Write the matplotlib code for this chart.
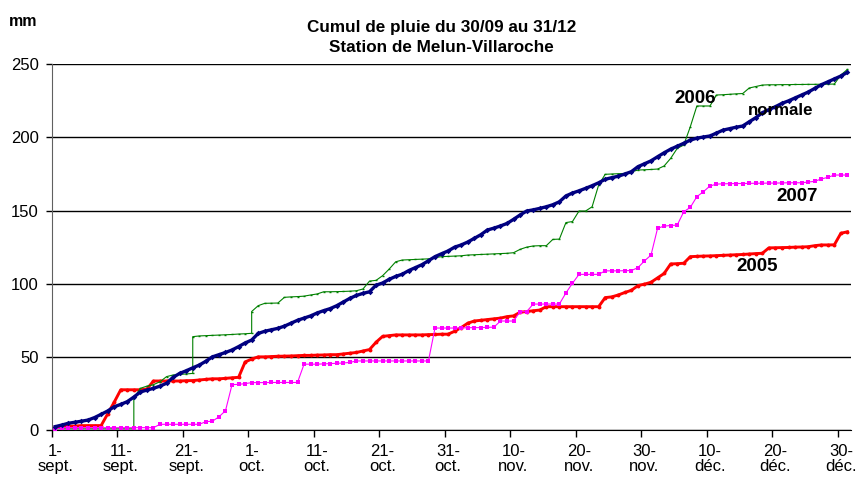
import numpy as np
import matplotlib
matplotlib.use("Agg")
import matplotlib.pyplot as plt

plt.rcParams['font.family'] = ['Liberation Sans', 'DejaVu Sans']

# cumul journalier (mm), du 1er septembre (indice 0) au 31 décembre (indice 121)
pluie_2005 = [
    2, 2.5, 2.5, 2.7, 3, 3, 3, 3, 11, 19,
    27.5, 27.5, 27.5, 27.5, 28, 33.5, 33.5, 33.5, 33.5, 33.5,
    33.7, 33.8, 34.2, 34.6, 35, 35, 35.3, 35.7, 36, 46.5,
    48.5, 50, 50, 50.2, 50.4, 50.5, 50.6, 50.8, 51, 51,
    51.2, 51.3, 51.5, 51.5, 52, 52.5, 53, 54, 55, 60,
    64, 64.5, 65, 65, 65, 65, 65, 65.2, 65.3, 65.5,
    65.5, 67.5, 70, 73, 74.5, 75, 75.5, 76, 76.5, 77.5,
    78, 80.5, 81, 81.5, 82, 84.3, 84.3, 84.3, 84.3, 84.3,
    84.3, 84.3, 84.3, 84.3, 90.5, 91, 92.3, 94, 95.5, 98.7,
    99.7, 101, 104, 107, 113.5, 113.7, 114, 118.5, 118.7, 118.9,
    119, 119.2, 119.4, 119.6, 119.8, 120, 120.3, 120.6, 120.8, 124.5,
    124.6, 124.7, 124.8, 125, 125.1, 125.3, 126, 126.5, 126.5, 126.6,
    134.5, 135.5,
]

pluie_2007 = [
    0.5, 1.6, 1.6, 1.6, 1.6, 1.6, 1.6, 1.6, 1.6, 1.6,
    1.6, 1.6, 1.6, 1.6, 1.6, 1.6, 3.9, 3.9, 3.9, 3.9,
    3.9, 3.9, 3.9, 5.7, 6, 9, 13.2, 31, 31.2, 31.7,
    32.4, 32.4, 32.4, 32.5, 32.5, 32.5, 32.5, 32.5, 45, 45,
    45, 45.2, 45.4, 45.6, 45.8, 46.2, 47.2, 47.2, 47.2, 47.2,
    47.2, 47.2, 47.2, 47.2, 47.2, 47.2, 47.2, 47.2, 69.7, 69.7,
    69.7, 69.7, 69.8, 69.9, 70, 70, 70.2, 70.3, 74.5, 74.5,
    74.5, 80.9, 80.9, 86.1, 86.1, 86.1, 86.1, 86.1, 93.7, 100.3,
    106.4, 106.4, 106.4, 106.4, 108.8, 108.8, 108.8, 108.9, 109, 111,
    115.6, 119.6, 137.9, 139.4, 139.8, 140.1, 149.2, 152.2, 159.5, 162.9,
    166.8, 168.1, 168.3, 168.4, 168.5, 168.5, 168.6, 168.7, 168.7, 168.8,
    168.8, 168.9, 169, 169, 169, 169.5, 170, 171.6, 172.7, 174.3,
    174.3, 174.3,
]

normale = [
    2.3, 3.4, 4.6, 5.3, 6, 6.8, 8.5, 10.7, 13, 15.9,
    17.5, 19.4, 22.5, 26, 27.3, 28.5, 30, 32, 36, 38.7,
    40.5, 42.5, 44.4, 47, 50, 51.5, 53, 54.7, 57, 59.5,
    61.5, 66, 67.5, 68.5, 69.5, 71, 73, 75, 76.5, 78,
    80, 81.6, 83, 85, 87.5, 90, 92, 93.4, 94.5, 99,
    100.5, 103, 105, 106.5, 109, 111, 113, 115.7, 118.5, 120.5,
    122.4, 125, 126.5, 128.5, 131, 133.5, 136.7, 138, 139.5, 141.2,
    144, 147, 149.7, 150.5, 151.5, 152.6, 154, 156, 160, 162,
    163.5, 165.2, 167, 169, 171.4, 172.5, 173.5, 175, 176.6, 180,
    182, 184, 186.8, 189.5, 192, 194, 196, 198.2, 199.5, 200.3,
    201, 203, 205, 206, 207, 207.8, 210.7, 213.5, 216.9, 219,
    221, 223.3, 225, 227, 229, 231, 233.5, 236, 238, 240,
    242, 244.5,
]

# 2006 : les jours 12, 21 et 30 apparaissent deux fois (saut vertical)
jours_2006 = list(range(0, 13)) + list(range(12, 22)) + list(range(21, 31)) + list(range(30, 122))
pluie_2006 = [
    0.8, 0.8, 0.8, 0.8, 0.8, 0.8, 0.8, 0.8, 0.8, 0.8, 0.8, 0.8, 0.8,
    22, 28.5, 30, 31, 33, 36.5, 37.6, 38, 38.3, 38.7,
    63.8, 64.3, 64.5, 64.7, 64.9, 65.1, 65.3, 65.6, 65.8, 66.1,
    81, 85, 86.6, 86.7, 86.8, 90.7, 91, 91.2, 91.5, 92.3,
    93, 94.5, 94.5, 94.6, 94.7, 94.9, 95.2, 96.4, 101.8, 102.3,
    105.5, 110, 115, 116.2, 116.4, 116.6, 116.8, 117, 117.8, 118.5,
    118.7, 118.9, 119.1, 119.6, 119.8, 120, 120.2, 120.4, 120.6, 120.8,
    121.2, 123.5, 125, 125.8, 126, 126, 130.3, 130.5, 141.8, 142.5,
    149.7, 149.7, 152.6, 167.5, 174.8, 175, 175.2, 175.4, 176.5, 177.7,
    177.9, 178.1, 178.4, 180.5, 185.7, 192.5, 194.8, 207.3, 221.5, 221.5,
    221.5, 229, 229.2, 229.5, 229.8, 230, 233.8, 234.8, 235.8, 236,
    236, 236.1, 236.1, 236.2, 236.2, 236.3, 236.3, 236.4, 236.4, 236.5,
    242.7, 246.5,
]

etiquettes_x = ['1-\nsept.', '11-\nsept.', '21-\nsept.', '1-\noct.', '11-\noct.', '21-\noct.',
                '31-\noct.', '10-\nnov.', '20-\nnov.', '30-\nnov.', '10-\ndéc.', '20-\ndéc.', '30-\ndéc.']

W, H = 856, 479
fig = plt.figure(figsize=(W / 100, H / 100), dpi=100)
ax = fig.add_axes([52 / W, 1 - 430 / H, 798.7 / W, 365.7 / H])

x = np.arange(len(normale)) + 0.5   # points au centre de chaque jour
x06 = np.array(jours_2006) + 0.5

ax.plot(x, pluie_2005, color='#FF0000', lw=2.1, marker='o', ms=1.8, zorder=3)
ax.plot(x06, pluie_2006, color='#008000', lw=0.8, marker='_', ms=2, zorder=3)
ax.plot(x, pluie_2007, color='#FF00FF', lw=0.8, marker='s', ms=3.4, mew=0, zorder=4)
ax.plot(x, normale, color='#000080', lw=2.4, marker='D', ms=2.8, mew=0, zorder=5)

ax.set_xlim(0, 122)
ax.set_ylim(0, 250)
ax.set_yticks([0, 50, 100, 150, 200, 250])
ax.yaxis.grid(True, color='black', lw=1)
ax.set_axisbelow(True)

ax.set_xticks(np.arange(0, 121, 10))
ax.set_xticklabels([])
ax.set_xticks(np.arange(0, 121, 10) + 0.5, minor=True)
ax.set_xticklabels(etiquettes_x, minor=True, fontsize=12, linespacing=1.02)
ax.tick_params(axis='x', which='major', length=4.7, width=1, direction='out')
ax.tick_params(axis='x', which='minor', length=0, pad=10)
ax.tick_params(axis='y', length=4.5, width=1, labelsize=12, pad=5)

for s in ['top', 'right']:
    ax.spines[s].set_visible(False)
ax.spines['left'].set_color('#606060')
ax.spines['bottom'].set_color('black')

fig.text(441.7 / W, 1 - 31.7 / H, 'Cumul de pluie du 30/09 au 31/12', ha='center', va='baseline',
         fontsize=12.3, fontweight='bold')
fig.text(441.7 / W, 1 - 51.7 / H, 'Station de Melun-Villaroche', ha='center', va='baseline',
         fontsize=12.3, fontweight='bold')
fig.text(23.3 / W, 1 - 26 / H, 'mm', ha='center', va='baseline', fontsize=11.5, fontweight='bold')

ax.text(98.3, 223.3, '2006', ha='center', va='baseline', fontsize=13.5, fontweight='bold', zorder=6)
ax.text(111.3, 215.3, 'normale', ha='center', va='baseline', fontsize=12.2, fontweight='bold', zorder=6)
ax.text(113.8, 156.7, '2007', ha='center', va='baseline', fontsize=13.5, fontweight='bold', zorder=6)
ax.text(107.7, 108.9, '2005', ha='center', va='baseline', fontsize=13.5, fontweight='bold', zorder=6)

fig.savefig('out.png', dpi=100)
